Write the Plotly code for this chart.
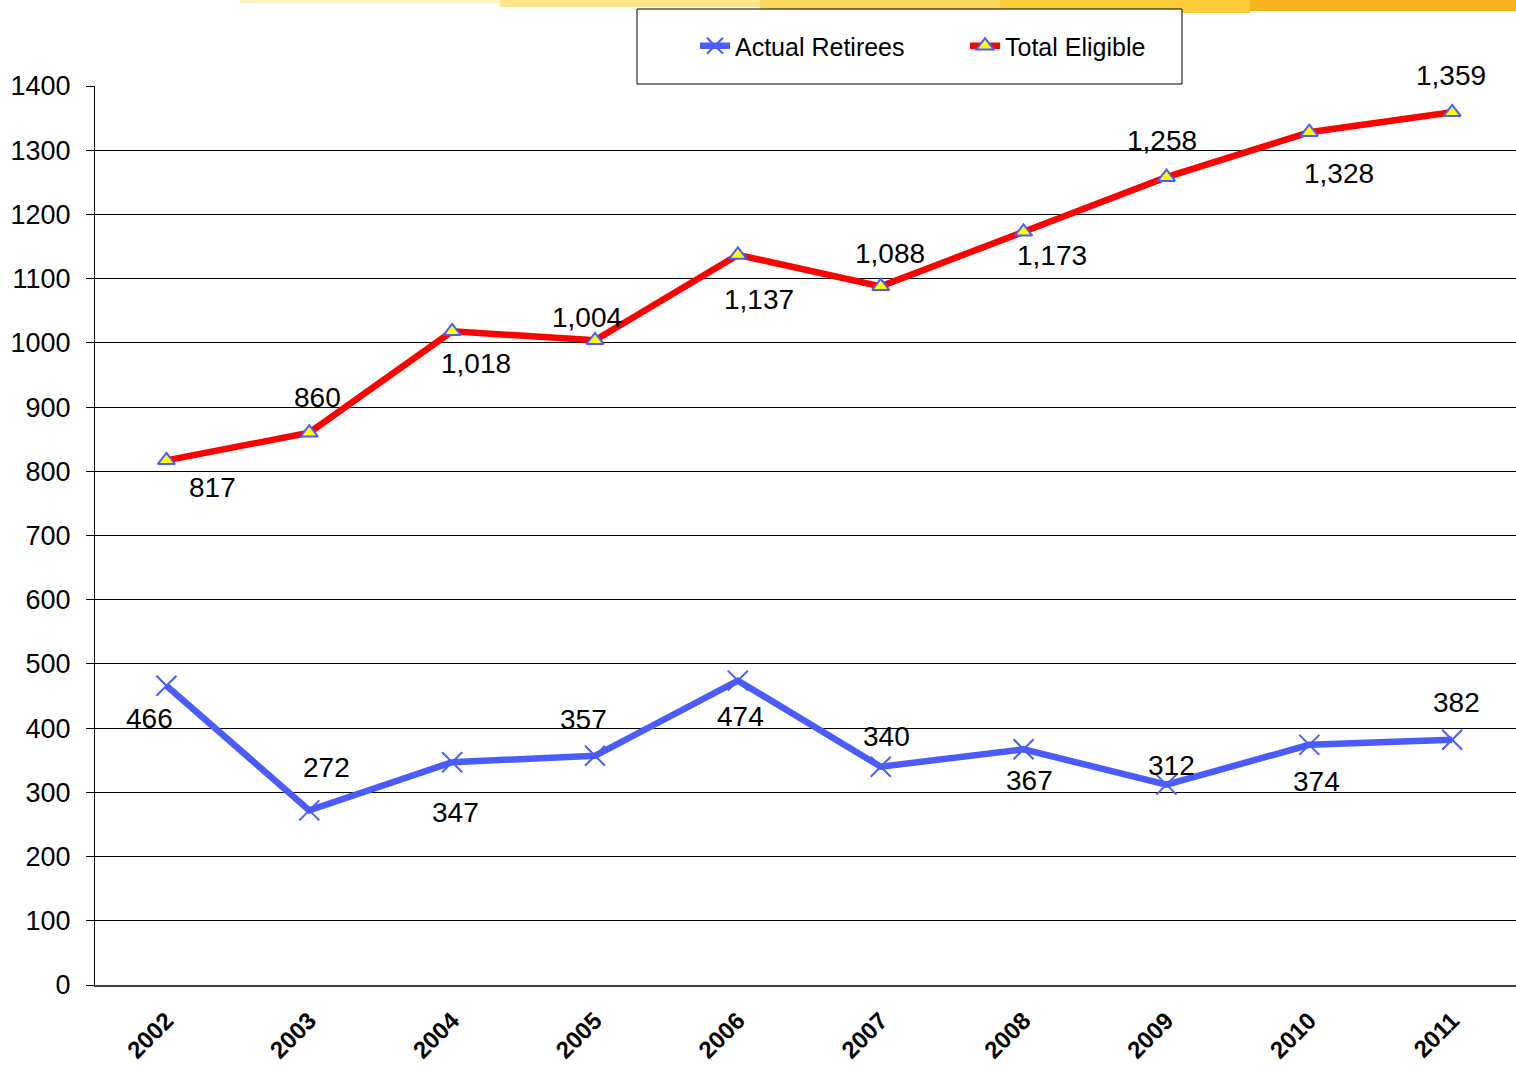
import plotly.graph_objects as go

years = ["2002", "2003", "2004", "2005", "2006", "2007", "2008", "2009", "2010", "2011"]
actual_retirees = [466, 272, 347, 357, 474, 340, 367, 312, 374, 382]
total_eligible = [817, 860, 1018, 1004, 1137, 1088, 1173, 1258, 1328, 1359]

# label offsets in pixels (xshift, yshift)
elig_off = [(46, -27), (8, 35), (24, -32), (-8, 23), (21, -45), (9, 33), (28, -24), (-4, 37), (30, -41), (-1, 37)]
act_off = [(-17, -33), (17, 43), (3, -50), (-12, 36), (3, -36), (6, 30), (6, -31), (5, 19), (7, -37), (4, 37)]

W, H = 1516, 1070
L, R, T, B = 95, 0, 86, 85
PW, PH = W - L - R, H - T - B

def px(x):
    return (x - L) / PW

def py(y):
    return (H - B - y) / PH

FONT = "Liberation Sans, Arial, sans-serif"
BLUE = "#4a5cff"
RED = "#ff0000"

fig = go.Figure()
fig.add_trace(go.Scatter(
    x=years, y=actual_retirees, name="Actual Retirees", mode="lines+markers",
    line=dict(color=BLUE, width=6.5),
    marker=dict(symbol="x-thin", size=20, line=dict(color=BLUE, width=2), color=BLUE),
))
fig.add_trace(go.Scatter(
    x=years, y=total_eligible, name="Total Eligible", mode="lines+markers",
    line=dict(color=RED, width=6.5),
    marker=dict(symbol="triangle-up", size=15, color="#ffff00", line=dict(color=BLUE, width=2)),
))

annotations = []
for i, (v, (dx, dy)) in enumerate(zip(total_eligible, elig_off)):
    annotations.append(dict(x=i, y=v, xref="x", yref="y", text=f"{v:,}", showarrow=False,
                            xshift=dx, yshift=dy, font=dict(family=FONT, size=28, color="black")))
for i, (v, (dx, dy)) in enumerate(zip(actual_retirees, act_off)):
    annotations.append(dict(x=i, y=v, xref="x", yref="y", text=f"{v:,}", showarrow=False,
                            xshift=dx, yshift=dy, font=dict(family=FONT, size=28, color="black")))

shapes = []
# decorative brush stripe at top
stripe = [(240, 500, 3, "#fff3c0"), (500, 760, 7, "#fde68a"), (760, 1000, 11, "#fcd95a"),
          (1000, 1250, 13, "#fbcb3a"), (1250, 1516, 11, "#f8b41e")]
for x0, x1, h, c in stripe:
    shapes.append(dict(type="rect", xref="paper", yref="paper", x0=px(x0), x1=px(x1),
                       y0=py(h), y1=py(0), fillcolor=c, line=dict(width=0), layer="below"))
# legend box
shapes.append(dict(type="rect", xref="paper", yref="paper", x0=px(637), x1=px(1182),
                   y0=py(84), y1=py(9), fillcolor="white", line=dict(color="black", width=1)))

fig.update_layout(
    width=W, height=H,
    margin=dict(l=L, r=R, t=T, b=B, autoexpand=False),
    paper_bgcolor="white", plot_bgcolor="white",
    font=dict(family=FONT, size=22, color="black"),
    showlegend=True,
    legend=dict(orientation="h", x=px(695), y=py(23), xanchor="left", yanchor="top",
                bgcolor="rgba(0,0,0,0)", font=dict(family=FONT, size=25, color="black"),
                itemwidth=30, entrywidth=225, traceorder="normal"),
    annotations=annotations,
    shapes=shapes,
    xaxis=dict(type="category", range=[-0.5, (1516 - 167) / 142.8], showgrid=False,
               tickangle=-45, tickfont=dict(family=FONT, size=24, color="black", weight="bold"),
               showline=True, linecolor="#404040", linewidth=2, ticks="", zeroline=False,
               ticklabelstandoff=10),
    yaxis=dict(range=[0, 1400], dtick=100, showgrid=True, gridcolor="black", gridwidth=1,
               showline=True, linecolor="black", linewidth=1, ticks="outside", ticklen=8,
               tickcolor="black", tickfont=dict(family=FONT, size=27, color="black"),
               ticklabelstandoff=10, zeroline=False),
)

fig.write_html("out.html", config={"displayModeBar": False},
               post_script="document.body.style.margin='0px';")
